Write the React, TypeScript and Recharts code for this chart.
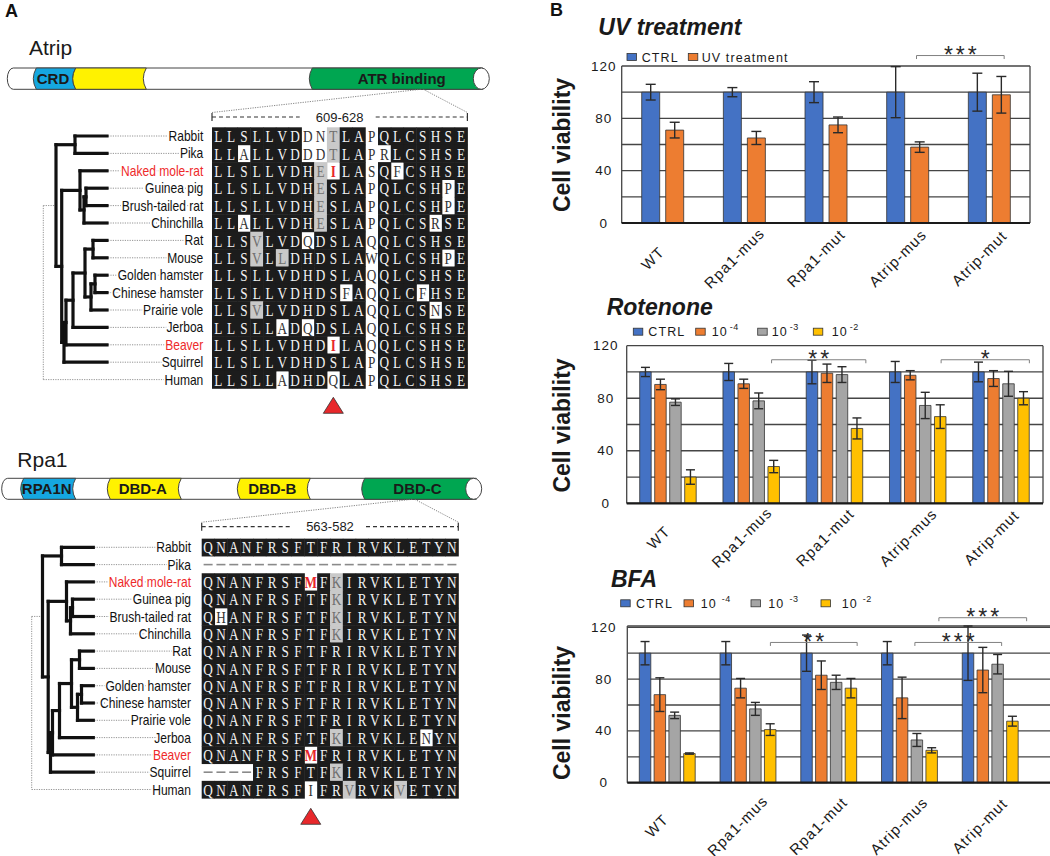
import React from 'react';
import { BarChart, Bar, XAxis, YAxis, CartesianGrid, ErrorBar, ReferenceLine } from 'recharts';

const SANS = '"Liberation Sans", Arial, Helvetica, sans-serif';
const SERIF = '"Liberation Serif", "Times New Roman", serif';

const BLUE = '#4472c4';
const ORANGE = '#ed7d31';
const GRAY = '#a5a5a5';
const YELLOW = '#ffc000';

// ---------------- Panel B data ----------------
const categories = ['WT', 'Rpa1-mus', 'Rpa1-mut', 'Atrip-mus', 'Atrip-mut'];
const yGridTicks = [0, 20, 40, 60, 80, 100, 120];
const yLabelTicks = [0, 40, 80, 120];

const uvCtrl = [100, 100, 100, 100, 100];
const uvCtrlErr = [6, 3.5, 8, 19.5, 14.5];
const uvTreat = [71, 65, 75, 58, 98];
const uvTreatErr = [6, 5, 6, 4, 14];

const rotCtrl = [100, 100, 100, 100, 100];
const rotCtrlErr = [3.5, 6.5, 9, 8, 7.5];
const rot4 = [90.5, 91, 99, 97.5, 95];
const rot4Err = [4, 3.5, 7, 3.5, 6];
const rot3 = [77, 78, 98, 74.5, 91];
const rot3Err = [2.5, 6, 6, 10, 9.5];
const rot2 = [20, 28, 57, 66, 80];
const rot2Err = [5.5, 4.7, 8, 9, 5];

const bfaCtrl = [100, 100, 100, 100, 100];
const bfaCtrlErr = [9, 9, 14, 9, 21];
const bfa4 = [68, 73, 83, 65.5, 87];
const bfa4Err = [13, 7.5, 11, 16, 17.5];
const bfa3 = [52, 57, 77.5, 33, 91.5];
const bfa3Err = [2.5, 5, 5.5, 5, 7.5];
const bfa2 = [22.5, 41, 73, 25, 47.5];
const bfa2Err = [0.5, 4.5, 7.5, 2, 3.8];

const uvSeriesNames = ['CTRL', 'UV treatment'];
const doseNames = ['CTRL', '10', '10', '10'];
const doseSups = ['', '-4', '-3', '-2'];
const chartTitles = ['UV treatment', 'Rotenone', 'BFA'];
const yAxisTitle = 'Cell viability';

type Series = { key: string; name: string; sup: string; color: string; values: number[]; errors: number[] };
type Bracket = { from: string; to: string; y: number; label: string; offFrom: number; offTo: number };

const uvSeries: Series[] = [
  { key: 'ctrl', name: uvSeriesNames[0], sup: '', color: BLUE, values: uvCtrl, errors: uvCtrlErr },
  { key: 'uv', name: uvSeriesNames[1], sup: '', color: ORANGE, values: uvTreat, errors: uvTreatErr },
];
const doseColors = [BLUE, ORANGE, GRAY, YELLOW];
const rotSeries: Series[] = [
  [rotCtrl, rotCtrlErr], [rot4, rot4Err], [rot3, rot3Err], [rot2, rot2Err],
].map(([v, e], i) => ({ key: 's' + i, name: doseNames[i], sup: doseSups[i], color: doseColors[i], values: v, errors: e }));
const bfaSeries: Series[] = [
  [bfaCtrl, bfaCtrlErr], [bfa4, bfa4Err], [bfa3, bfa3Err], [bfa2, bfa2Err],
].map(([v, e], i) => ({ key: 's' + i, name: doseNames[i], sup: doseSups[i], color: doseColors[i], values: v, errors: e }));

const uvBrackets: Bracket[] = [{ from: 'Atrip-mus', to: 'Atrip-mut', y: 128, label: '***', offFrom: 9, offTo: 15 }];
const rotBrackets: Bracket[] = [
  { from: 'Rpa1-mus', to: 'Rpa1-mut', y: 109.3, label: '**', offFrom: 20, offTo: 31 },
  { from: 'Atrip-mus', to: 'Atrip-mut', y: 109.3, label: '*', offFrom: 23, offTo: 28 },
];
const bfaBrackets: Bracket[] = [
  { from: 'Rpa1-mus', to: 'Rpa1-mut', y: 108.3, label: '**', offFrom: 22, offTo: 28 },
  { from: 'Atrip-mus', to: 'Atrip-mut', y: 108.3, label: '***', offFrom: 5, offTo: 11 },
  { from: 'Atrip-mus', to: 'Atrip-mut', y: 127.4, label: '***', offFrom: 29, offTo: 36 },
];

type ChartCfg = {
  left: number; top: number; width: number; height: number;
  margin: { top: number; right: number; bottom: number; left: number };
  yAxisWidth: number; xAxisHeight: number; padRight: number; frameRight: boolean;
  barSize: number; barGap: number; capHalf: number;
  tickDx: number; tickDy: number; yLabelDx: number;
  title: string; titleX: number; titleY: number; yTitleY: number;
  legendY: number; legendSq: number[]; legendTx: number[]; supGap: number;
};

const uvCfg: ChartCfg = {
  left: 530, top: 0, width: 520, height: 290,
  margin: { top: 66, right: 20, bottom: 17, left: 51.7 },
  yAxisWidth: 40, xAxisHeight: 50, padRight: 0, frameRight: true,
  barSize: 18, barGap: 6, capHalf: 5, tickDx: -10, tickDy: 35, yLabelDx: 18,
  title: chartTitles[0], titleX: 598.3, titleY: 35, yTitleY: 145,
  legendY: 57, legendSq: [627, 688.3], legendTx: [641.7, 701.7], supGap: 2,
};
const rotCfg: ChartCfg = {
  left: 530, top: 280, width: 520, height: 290,
  margin: { top: 65.7, right: 7, bottom: 16.7, left: 56.7 },
  yAxisWidth: 40, xAxisHeight: 50, padRight: 0, frameRight: true,
  barSize: 11.5, barGap: 3.5, capHalf: 4.5, tickDx: -10, tickDy: 34, yLabelDx: 21,
  title: chartTitles[1], titleX: 606.7, titleY: 315, yTitleY: 425.5,
  legendY: 331.7, legendSq: [633.3, 695.7, 757.7, 813.3], legendTx: [648.3, 711.7, 771.7, 831.7], supGap: 2,
};
const bfaCfg: ChartCfg = {
  left: 530, top: 560, width: 530, height: 296,
  margin: { top: 66, right: 0, bottom: 23.3, left: 57.3 },
  yAxisWidth: 40, xAxisHeight: 50, padRight: 29, frameRight: false,
  barSize: 11.5, barGap: 3.3, capHalf: 4.5, tickDx: -11, tickDy: 43, yLabelDx: 23.5,
  title: chartTitles[2], titleX: 611, titleY: 586.7, yTitleY: 713,
  legendY: 603.3, legendSq: [620.7, 684, 751, 821], legendTx: [636, 700.7, 768.3, 841.7], supGap: 5,
};

function bracketShape(p: any, b: Bracket) {
  const a = p.x1 + b.offFrom;
  const c = p.x2 + b.offTo;
  const y = p.y1;
  return (
    <g>
      <path d={`M${a},${y + 3.5} L${a},${y} L${c},${y} L${c},${y + 3.5}`} stroke="#808080" strokeWidth={1} fill="none" />
      <text x={(a + c) / 2 + 1.5} y={y + 7.5} textAnchor="middle" fontFamily={SANS} fontSize={23} letterSpacing={3} fill="#2a2a2a">{b.label}</text>
    </g>
  );
}

function ViabilityChart({ cfg, series, brackets }: { cfg: ChartCfg; series: Series[]; brackets: Bracket[] }) {
  const data = categories.map((name, i) => {
    const row: Record<string, any> = { name };
    series.forEach((s) => { row[s.key] = s.values[i]; row[s.key + 'Err'] = s.errors[i]; });
    return row;
  });
  const XTick = (props: any) => {
    const { x, y, payload } = props;
    const px = x + cfg.tickDx;
    const py = y + cfg.tickDy;
    return (
      <text x={px} y={py} transform={`rotate(-45 ${px} ${py})`} textAnchor="middle" dominantBaseline="central"
        fontFamily={SANS} fontSize={15} letterSpacing={1.1} fill="#1a1a1a">{payload.value}</text>
    );
  };
  const YTick = (props: any) => {
    const { x, y, payload } = props;
    if (!yLabelTicks.includes(payload.value)) return <g />;
    return (
      <text x={x - cfg.yLabelDx} y={y} textAnchor="middle" dominantBaseline="central"
        fontFamily={SANS} fontSize={13.5} letterSpacing={1} fill="#1a1a1a">{payload.value}</text>
    );
  };
  return (
    <div style={{ position: 'absolute', left: cfg.left, top: cfg.top }}>
      <BarChart width={cfg.width} height={cfg.height} data={data} margin={cfg.margin} barSize={cfg.barSize} barGap={cfg.barGap}>
        <CartesianGrid stroke="#454545" strokeWidth={1.3}
          verticalCoordinatesGenerator={(p: any) => (cfg.frameRight ? [p.offset.left, p.offset.left + p.offset.width] : [p.offset.left])} />
        <XAxis dataKey="name" interval={0} tickLine={false} tickSize={0} tickMargin={0} height={cfg.xAxisHeight}
          axisLine={{ stroke: '#1a1a1a', strokeWidth: 2.2 }} tick={XTick} padding={{ left: 0, right: cfg.padRight }} />
        <YAxis type="number" domain={[0, 120]} ticks={yGridTicks} interval={0} tickLine={false} tickSize={0} tickMargin={0}
          axisLine={false} width={cfg.yAxisWidth} tick={YTick} />
        {series.map((s) => (
          <Bar key={s.key} dataKey={s.key} name={s.name} fill={s.color} stroke="#333" strokeWidth={0.8} isAnimationActive={false}>
            <ErrorBar dataKey={s.key + 'Err'} width={cfg.capHalf} stroke="#2a2a2a" strokeWidth={1.4} direction="y" />
          </Bar>
        ))}
        {brackets.map((b, i) => (
          <ReferenceLine key={i} segment={[{ x: b.from, y: b.y }, { x: b.to, y: b.y }]} ifOverflow="visible"
            shape={(p: any) => bracketShape(p, b)} />
        ))}
      </BarChart>
    </div>
  );
}

function ChartDecor({ cfg, series }: { cfg: ChartCfg; series: Series[] }) {
  return (
    <g>
      <text x={cfg.titleX} y={cfg.titleY} fontFamily={SANS} fontSize={23} fontWeight={700} fontStyle="italic" fill="#1a1a1a">{cfg.title}</text>
      <text x={561.7} y={cfg.yTitleY} transform={`rotate(-90 561.7 ${cfg.yTitleY})`} textAnchor="middle" dominantBaseline="central"
        fontFamily={SANS} fontSize={23} fontWeight={700} fill="#1a1a1a">{yAxisTitle}</text>
      {series.map((s, i) => (
        <g key={s.key}>
          <rect x={cfg.legendSq[i]} y={cfg.legendY - 3.5} width={9.5} height={7} fill={s.color} stroke="#333" strokeWidth={0.8} />
          <text x={cfg.legendTx[i]} y={cfg.legendY} dy="0.36em" fontFamily={SANS} fontSize={12.5} letterSpacing={1.1} fill="#1a1a1a">
            {s.name}
            {s.sup ? <tspan dx={cfg.supGap} dy={-6} fontSize={9} letterSpacing={0.5}>{s.sup}</tspan> : null}
          </text>
        </g>
      ))}
    </g>
  );
}

// ---------------- Panel A data ----------------
const speciesNames = ['Rabbit', 'Pika', 'Naked mole-rat', 'Guinea pig', 'Brush-tailed rat', 'Chinchilla', 'Rat', 'Mouse',
  'Golden hamster', 'Chinese hamster', 'Prairie vole', 'Jerboa', 'Beaver', 'Squirrel', 'Human'];
const highlightSpecies = ['Naked mole-rat', 'Beaver'];

const atripSeqs = [
  'LLSLLVDDNTLAPQLCSHSE', 'LLALLVDDDTLAPRLCSHSE', 'LLSLLVDHEILASQFCSHSE', 'LLSLLVDHESLAPQLCSHPE',
  'LLSLLVDHESLAPQLCSHPE', 'LLALLVDHESLAPQLCSRSE', 'LLSVLVDQDSLAQQLCSHSE', 'LLSVLLDHDSLAWQLCSHPE',
  'LLSLLVDHDSLAQQLCSHSE', 'LLSLLVDHDSFAQQLCFHSE', 'LLSVLVDHDSLAQQLCSNSE', 'LLSLLADQDSLAQQLCSHSE',
  'LLSLLVDHDILAQQLCSHSE', 'LLSLLVDHDSLAPQLCSHSE', 'LLSLLADHDQLAPQLCSHSE',
];
const atripShades = [
  'bbbbbbbwwgbbwbbbbbbb', 'bbwbbbbwwgbbwwbbbbbb', 'bbbbbbbbgrbbwbwbbbbb', 'bbbbbbbbgbbbwbbbbbwb',
  'bbbbbbbbgbbbwbbbbbwb', 'bbwbbbbbgbbbwbbbbwbb', 'bbbgbbbwbbbbwbbbbbbb', 'bbbgbgbbbbbbwbbbbbwb',
  'bbbbbbbbbbbbwbbbbbbb', 'bbbbbbbbbbwbwbbbwbbb', 'bbbgbbbbbbbbwbbbbwbb', 'bbbbbwbwbbbbwbbbbbbb',
  'bbbbbbbbbrbbwbbbbbbb', 'bbbbbbbbbbbbwbbbbbbb', 'bbbbbwbbbwbbwbbbbbbb',
];
const rpa1Seqs = [
  'QNANFRSFTFRIRVKLETYN', '--------------------', 'QNANFRSFMFKIRVKLETYN', 'QNANFRSFTFKIRVKLETYN',
  'QHANFRSFTFKIRVKLETYN', 'QNANFRSFTFKIRVKLETYN', 'QNANFRSFTFRIRVKLETYN', 'QNANFRSFTFRIRVKLETYN',
  'QNANFRSFTFRIRVKLETYN', 'QNANFRSFTFRIRVKLETYN', 'QNANFRSFTFRIRVKLETYN', 'QNANFRSFTFKIRVKLENYN',
  'QNANFRSFMFRIRVKLETYN', '----FRSFTFKIRVKLETYN', 'QNANFRSFIFRVRVKVETYN',
];
const rpa1Shades = [
  'bbbbbbbbbbbbbbbbbbbb', 'wwwwwwwwwwwwwwwwwwww', 'bbbbbbbbrbgbbbbbbbbb', 'bbbbbbbbbbgbbbbbbbbb',
  'bwbbbbbbbbgbbbbbbbbb', 'bbbbbbbbbbgbbbbbbbbb', 'bbbbbbbbbbbbbbbbbbbb', 'bbbbbbbbbbbbbbbbbbbb',
  'bbbbbbbbbbbbbbbbbbbb', 'bbbbbbbbbbbbbbbbbbbb', 'bbbbbbbbbbbbbbbbbbbb', 'bbbbbbbbbbgbbbbbbwbb',
  'bbbbbbbbrbbbbbbbbbbb', 'wwwwbbbbbbgbbbbbbbbb', 'bbbbbbbbwbbgbbbgbbbb',
];

type TNode = { x: number; c: (TNode | number)[] };
const speciesTree: TNode = {
  x: 56, c: [
    { x: 75, c: [0, 1] },
    { x: 61.7, c: [
      { x: 80, c: [2, { x: 84, c: [{ x: 86, c: [3, 4] }, 5] }] },
      { x: 64, c: [{ x: 66, c: [{ x: 73, c: [{ x: 85, c: [{ x: 93, c: [6, 7] }, { x: 91, c: [{ x: 95, c: [8, 9] }, 10] }] }, 11] }, 12] }, 13] },
    ] },
  ],
};

type Domain = { from: number; to: number; color: string; label: string; labelX?: number };
const atripDomains: Domain[] = [
  { from: 33.3, to: 72.7, color: '#15a7e0', label: 'CRD' },
  { from: 72.7, to: 143.3, color: '#fff200', label: '' },
  { from: 309.3, to: 480, color: '#00a651', label: 'ATR binding', labelX: 401.7 },
];
const rpa1Domains: Domain[] = [
  { from: 20.7, to: 72.7, color: '#15a7e0', label: 'RPA1N' },
  { from: 107.3, to: 178.3, color: '#fff200', label: 'DBD-A' },
  { from: 237.3, to: 307.3, color: '#fff200', label: 'DBD-B' },
  { from: 361.7, to: 473.3, color: '#00a651', label: 'DBD-C' },
];

type AlignCfg = {
  title: string; titleX: number; titleY: number;
  barX0: number; barX1: number; barY: number; barH: number; domains: Domain[];
  calloutX: number; rangeLabel: string; rangeY: number;
  y0: number; pitch: number; blockX: number; colW: number; labelRight: number;
  tipX: number; treeDx: number; rootX: number; seqs: string[]; shades: string[]; markCol: number; triTop: number;
};

const atripCfg: AlignCfg = {
  title: 'Atrip', titleX: 29, titleY: 55,
  barX0: 7.3, barX1: 489.3, barY: 68, barH: 21.3, domains: atripDomains,
  calloutX: 422, rangeLabel: '609-628', rangeY: 117,
  y0: 136, pitch: 17.4, blockX: 212, colW: 12.77, labelRight: 203.3,
  tipX: 107, treeDx: 0, rootX: 43.3, seqs: atripSeqs, shades: atripShades, markCol: 9, triTop: 397.3,
};
const rpa1Cfg: AlignCfg = {
  title: 'Rpa1', titleX: 17.3, titleY: 466.7,
  barX0: 1.7, barX1: 481.7, barY: 478.3, barH: 21, domains: rpa1Domains,
  calloutX: 413.5, rangeLabel: '563-582', rangeY: 526.7,
  y0: 547.3, pitch: 17.3, blockX: 201.7, colW: 12.83, labelRight: 191,
  tipX: 93.3, treeDx: -13.5, rootX: 31.7, seqs: rpa1Seqs, shades: rpa1Shades, markCol: 8, triTop: 808.3,
};

function DomainBar({ cfg }: { cfg: AlignCfg }) {
  const { barX0: x0, barX1: x1, barY: y, barH: h } = cfg;
  const mid = y + h / 2;
  const capRx = 8;
  const r = 6;
  const body = `M${x0 + r},${y} L${x1 - capRx},${y} L${x1 - capRx},${y + h} L${x0 + r},${y + h} A${r},${h / 2} 0 0 1 ${x0 + r},${y} Z`;
  return (
    <g>
      <path d={body} fill="#fff" stroke="#444" strokeWidth={1} />
      {cfg.domains.map((d) => {
        const c = 3;
        const p = `M${d.from + c},${y} L${d.to + c},${y} Q${d.to - c},${mid} ${d.to + c},${y + h} L${d.from + c},${y + h} Q${d.from - c},${mid} ${d.from + c},${y} Z`;
        return (
          <g key={d.from}>
            <path d={p} fill={d.color} stroke="#444" strokeWidth={1} />
            {d.label ? (
              <text x={d.labelX ?? (d.from + d.to) / 2} y={mid} dy="0.36em" textAnchor="middle" fontFamily={SANS} fontWeight={700} fontSize={15} fill="#1a1a1a">{d.label}</text>
            ) : null}
          </g>
        );
      })}
      <ellipse cx={x1 - capRx} cy={mid} rx={capRx} ry={h / 2} fill="#fff" stroke="#444" strokeWidth={1} />
    </g>
  );
}

function AlignmentPanel({ cfg }: { cfg: AlignCfg }) {
  const rowY = speciesNames.map((_, i) => cfg.y0 + cfg.pitch * i);
  const blockEnd = cfg.blockX + cfg.colW * 20;
  const els: React.ReactNode[] = [];
  cfg.seqs.forEach((seq, r) => {
    const cy = rowY[r];
    const top = cy - cfg.pitch / 2;
    for (let c = 0; c < seq.length; c++) {
      const ch = seq[c];
      const s = cfg.shades[r][c];
      const left = cfg.blockX + cfg.colW * c;
      const cx = left + cfg.colW / 2;
      if (s === 'b') els.push(<rect key={`b${r}-${c}`} x={left} y={top} width={cfg.colW + 0.5} height={cfg.pitch + 0.5} fill="#1c1c1c" />);
      else if (s === 'g') els.push(<rect key={`b${r}-${c}`} x={left} y={top} width={cfg.colW + 0.5} height={cfg.pitch + 0.5} fill="#c9c9c9" />);
      if (ch === '-') {
        els.push(<rect key={`t${r}-${c}`} x={cx - 4.5} y={cy - 0.8} width={9} height={1.6} fill="#8a8a8a" />);
      } else {
        const fill = s === 'b' ? '#f2f2f2' : s === 'g' ? '#707070' : s === 'r' ? '#e8262a' : '#333';
        els.push(
          <text key={`t${r}-${c}`} transform={`translate(${cx},${cy}) scale(0.78,1)`} textAnchor="middle" dominantBaseline="central"
            fontFamily={SERIF} fontSize={17} fontWeight={s === 'r' ? 700 : 400} fill={fill}>{ch}</text>
        );
      }
    }
  });
  const treeLines: React.ReactNode[] = [];
  let k = 0;
  const draw = (node: TNode): number => {
    const nx = node.x + cfg.treeDx;
    const ys = node.c.map((ch) => {
      if (typeof ch === 'number') {
        treeLines.push(<line key={k++} x1={nx} y1={rowY[ch]} x2={cfg.tipX} y2={rowY[ch]} />);
        return rowY[ch];
      }
      const cy = draw(ch);
      treeLines.push(<line key={k++} x1={nx} y1={cy} x2={ch.x + cfg.treeDx} y2={cy} />);
      return cy;
    });
    treeLines.push(<line key={k++} x1={nx} y1={ys[0]} x2={nx} y2={ys[ys.length - 1]} />);
    return (ys[0] + ys[ys.length - 1]) / 2;
  };
  const rootY = draw(speciesTree);
  const humanIdx = speciesNames.length - 1;
  const humanY = rowY[humanIdx];
  const markX = cfg.blockX + cfg.colW * (cfg.markCol + 0.5);
  const rangeMid = (cfg.blockX + blockEnd) / 2;
  return (
    <g>
      <text x={cfg.titleX} y={cfg.titleY} fontFamily={SANS} fontSize={21} fill="#1a1a1a">{cfg.title}</text>
      <DomainBar cfg={cfg} />
      <g stroke="#777" strokeWidth={0.9} strokeDasharray="1.2 1.2" fill="none">
        <line x1={cfg.calloutX - 1.3} y1={cfg.barY + cfg.barH} x2={cfg.blockX} y2={cfg.rangeY - 4.5} />
        <line x1={cfg.calloutX + 1.3} y1={cfg.barY + cfg.barH} x2={blockEnd} y2={cfg.rangeY - 4.5} />
      </g>
      <g stroke="#333" strokeWidth={1.2}>
        <line x1={cfg.blockX} y1={cfg.rangeY - 4} x2={cfg.blockX} y2={cfg.rangeY + 4} />
        <line x1={blockEnd} y1={cfg.rangeY - 4} x2={blockEnd} y2={cfg.rangeY + 4} />
        <line x1={cfg.blockX} y1={cfg.rangeY} x2={rangeMid - 40} y2={cfg.rangeY} strokeDasharray="4 3" />
        <line x1={rangeMid + 36} y1={cfg.rangeY} x2={blockEnd} y2={cfg.rangeY} strokeDasharray="4 3" />
      </g>
      <text x={rangeMid} y={cfg.rangeY} dy="0.36em" textAnchor="middle" fontFamily={SANS} fontSize={13} fill="#1a1a1a">{cfg.rangeLabel}</text>
      <g stroke="#888" strokeWidth={0.9} strokeDasharray="1.2 1.2" fill="none">
        {speciesNames.map((_, i) => (i === humanIdx ? null : (
          <line key={i} x1={cfg.tipX + 1} y1={rowY[i]} x2={cfg.labelRight - 3} y2={rowY[i]} />
        )))}
        <line x1={cfg.rootX} y1={rootY} x2={speciesTree.x + cfg.treeDx} y2={rootY} />
        <line x1={cfg.rootX} y1={rootY} x2={cfg.rootX} y2={humanY} />
        <line x1={cfg.rootX} y1={humanY} x2={cfg.labelRight - 3} y2={humanY} />
      </g>
      <g stroke="#111" strokeWidth={3.2} strokeLinecap="square">{treeLines}</g>
      {speciesNames.map((name, i) => (
        <g key={name} transform={`translate(${cfg.labelRight},${rowY[i]}) scale(0.86,1)`}>
          <text x={0} y={0} dy="0.36em" textAnchor="end" fontFamily={SANS} fontSize={14}
            fill={highlightSpecies.includes(name) ? '#ee2a2a' : '#111'} stroke="#fff" strokeWidth={4} paintOrder="stroke">{name}</text>
        </g>
      ))}
      {els}
      <polygon points={`${markX - 10},${cfg.triTop + 16} ${markX + 10},${cfg.triTop + 16} ${markX},${cfg.triTop}`} fill="#e8282b" stroke="#333" strokeWidth={0.8} />
    </g>
  );
}

export default function App() {
  return (
    <div style={{ position: 'absolute', left: 0, top: 0, width: 1050, height: 856, overflow: 'hidden', background: '#fff' }}>
      <svg width={1050} height={856} style={{ position: 'absolute', left: 0, top: 0 }}>
        <text x={5} y={17} fontFamily={SANS} fontSize={18} fontWeight={700} fill="#111">A</text>
        <text x={550} y={16} fontFamily={SANS} fontSize={18} fontWeight={700} fill="#111">B</text>
        <AlignmentPanel cfg={atripCfg} />
        <AlignmentPanel cfg={rpa1Cfg} />
        <ChartDecor cfg={uvCfg} series={uvSeries} />
        <ChartDecor cfg={rotCfg} series={rotSeries} />
        <ChartDecor cfg={bfaCfg} series={bfaSeries} />
      </svg>
      <ViabilityChart cfg={uvCfg} series={uvSeries} brackets={uvBrackets} />
      <ViabilityChart cfg={rotCfg} series={rotSeries} brackets={rotBrackets} />
      <ViabilityChart cfg={bfaCfg} series={bfaSeries} brackets={bfaBrackets} />
    </div>
  );
}
